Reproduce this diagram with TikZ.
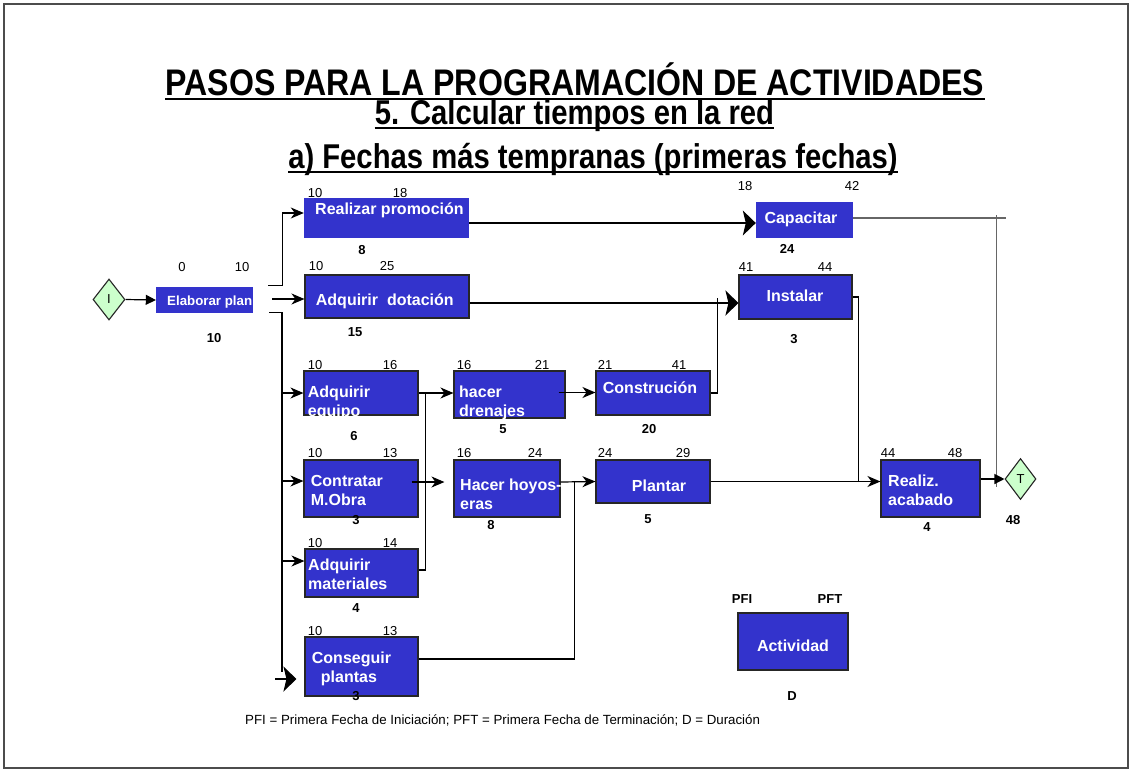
\documentclass[tikz,border=0pt]{standalone}
\usepackage{fontspec}
\setmainfont{Liberation Sans}
\usepackage{graphicx}
\usetikzlibrary{shapes.geometric, arrows.meta, positioning, calc}
\definecolor{actblue}{HTML}{3333CC}
\definecolor{hitogreen}{HTML}{CCFFCC}

\begin{document}
\begin{tikzpicture}[
    x=1pt, y=-1pt,
    act/.style={rectangle, fill=actblue, inner sep=0pt},
    actb/.style={act, draw=black!85, line width=1.1pt},
    txt/.style={anchor=base west, inner sep=0pt, text=white, font=\bfseries\fontsize{16}{19}\selectfont, align=left},
    num/.style={inner sep=0pt, font=\fontsize{13}{13}\selectfont},
    dur/.style={inner sep=0pt, font=\bfseries\fontsize{13}{13}\selectfont},
    hito/.style={diamond, draw=black!85, fill=hitogreen, line width=1.1pt, inner sep=0pt, minimum width=32pt, minimum height=41pt, font=\fontsize{13}{13}\selectfont},
    tit/.style={inner sep=0pt, anchor=base},
    uline/.style={line width=2.5pt},
    conn/.style={line width=1.2pt},
    arrow/.style={conn, -{Stealth[length=13pt, width=11pt, inset=4pt]}},
    bigarrow/.style={conn, -{Stealth[length=13pt, width=25pt, inset=3pt]}},
    tri/.style={conn, -{Triangle[length=10pt, width=10pt]}}
]
\useasboundingbox (0,0) rectangle (1132,772);
\draw[black!70, line width=1.5pt] (4,4) rectangle (1128,768);

% titulo
\node[tit, font=\bfseries\fontsize{37}{37}\selectfont] (t1) at (575,95) {\scalebox{0.867}[1]{PASOS PARA LA PROGRAMACIÓN DE ACTIVIDADES}};
\node[tit, font=\bfseries\fontsize{34.4}{34}\selectfont] (t2) at (574.5,124) {\scalebox{0.85}[1]{5. Calcular tiempos en la red}};
\node[tit, font=\bfseries\fontsize{34.4}{34}\selectfont] (t3) at (593,168) {\scalebox{0.85}[1]{a) Fechas más tempranas (primeras fechas)}};
\draw[uline] ([yshift=-4pt]t1.base west) -- ([yshift=-4pt]t1.base east);
\draw[uline] ([yshift=-4pt]t2.base west) -- ([yshift=-4pt]t2.base east);
\draw[uline] ([yshift=-4pt]t3.base west) -- ([yshift=-4pt]t3.base east);

% hitos
\node[hito] (I) at (109,299.5) {I};
\node[hito, minimum width=31pt] (T) at (1020.5,479) {T};

% actividades
\node[act, minimum width=97pt, minimum height=26pt] (ep) at (204.5,300) {};
\node[act, minimum width=165pt, minimum height=40pt] (rp) at (386.5,218) {};
\node[actb, minimum width=164pt, minimum height=43pt] (ad) at (387,296.5) {};
\node[act, minimum width=97pt, minimum height=36pt] (cp) at (804.5,220) {};
\node[actb, minimum width=113pt, minimum height=44pt] (in) at (795.5,297) {};
\node[actb, minimum width=114pt, minimum height=44pt] (ae) at (361,393) {};
\node[actb, minimum width=111pt, minimum height=47pt] (hd) at (509.5,394.5) {};
\node[actb, minimum width=114pt, minimum height=44pt] (co) at (653,393) {};
\node[actb, minimum width=114pt, minimum height=57pt] (cm) at (361,488.5) {};
\node[actb, minimum width=106pt, minimum height=57pt] (hh) at (507,488.5) {};
\node[actb, minimum width=114pt, minimum height=43pt] (pl) at (653,481.5) {};
\node[actb, minimum width=113pt, minimum height=48pt] (am) at (361.5,573) {};
\node[actb, minimum width=113pt, minimum height=59pt] (cs) at (361.5,666.5) {};
\node[actb, minimum width=99pt, minimum height=57pt] (ra) at (930.5,488.5) {};

% textos (dos lineas: base en la segunda linea)
\node[txt, font=\bfseries\fontsize{13.3}{16}\selectfont] (ep-t) at (167,305) {Elaborar plan};
\node[txt] (rp-t) at (315,214) {Realizar promoción};
\node[txt] (ad-t) at (315.7,305) {Adquirir\ \ dotación};
\node[txt, anchor=base] (cp-t) at (801,223) {Capacitar};
\node[txt, anchor=base] (in-t) at (795,301) {Instalar};
\node[txt] (ae-t) at (307.7,416.5) {Adquirir\\equipo};
\node[txt] (hd-t) at (459,416.7) {hacer\\drenajes};
\node[txt] (co-t) at (602.7,393.3) {Construción};
\node[txt] (cm-t) at (310.7,505.7) {Contratar\\M.Obra};
\node[txt] (hh-t) at (460,509) {Hacer hoyos-\\eras};
\node[txt, anchor=base] (pl-t) at (659,491) {Plantar};
\node[txt] (am-t) at (308,589.7) {Adquirir\\materiales};
\node[txt] (cs-t) at (311.7,682.3) {Conseguir\\\hspace*{9pt}plantas};
\node[txt] (ra-t) at (888,505.7) {Realiz.\\acabado};

% fechas (PFI, PFT) y duraciones
\node[num] (ep-i) at (182,267) {0};   \node[num] (ep-f) at (242,267) {10};  \node[dur] (ep-d) at (214,338) {10};
\node[num] (rp-i) at (315,193) {10};  \node[num] (rp-f) at (400,193) {18};  \node[dur] (rp-d) at (362,250) {8};
\node[num] (ad-i) at (316,266) {10};  \node[num] (ad-f) at (387,266) {25};  \node[dur] (ad-d) at (355,332) {15};
\node[num] (cp-i) at (745,186) {18};  \node[num] (cp-f) at (852,186) {42};  \node[dur] (cp-d) at (787,249) {24};
\node[num] (in-i) at (746,267) {41};  \node[num] (in-f) at (825,267) {44};  \node[dur] (in-d) at (794,339) {3};
\node[num] (ae-i) at (315,365) {10};  \node[num] (ae-f) at (390,365) {16};  \node[dur] (ae-d) at (354,436) {6};
\node[num] (hd-i) at (464,365) {16};  \node[num] (hd-f) at (542,365) {21};  \node[dur] (hd-d) at (503,429) {5};
\node[num] (co-i) at (605,365) {21};  \node[num] (co-f) at (679,365) {41};  \node[dur] (co-d) at (649,429) {20};
\node[num] (cm-i) at (315,453) {10};  \node[num] (cm-f) at (390,453) {13};  \node[dur] (cm-d) at (356,520) {3};
\node[num] (hh-i) at (464,453) {16};  \node[num] (hh-f) at (535,453) {24};  \node[dur] (hh-d) at (491,525) {8};
\node[num] (pl-i) at (605,453) {24};  \node[num] (pl-f) at (683,453) {29};  \node[dur] (pl-d) at (648,519) {5};
\node[num] (am-i) at (315,543) {10};  \node[num] (am-f) at (390,543) {14};  \node[dur] (am-d) at (356,608) {4};
\node[num] (cs-i) at (315,631) {10};  \node[num] (cs-f) at (390,631) {13};  \node[dur] (cs-d) at (356,696) {3};
\node[num] (ra-i) at (888,453) {44};  \node[num] (ra-f) at (955,453) {48};  \node[dur] (ra-d) at (927,527) {4};
\node[dur] (T-d) at (1013,520) {48};

% conexiones
\draw[tri] (I.east) -- (ep.west);
\coordinate (s1) at ($(ep.north east)+(15,-1)$);
\coordinate (s2) at ($(ep.east)+(19,-1)$);
\coordinate (s3) at ($(ep.south east)+(16,-1)$);
\coordinate (bus) at (282,672);
\draw[arrow] (s1) -| ($(rp.west)+(-21,-5)$) -- ($(rp.west)+(0,-5)$);
\draw[arrow] (s2) -- (s2 -| ad.west);
\draw[conn] (s3) -| (bus);
\draw[arrow] (bus |- ae.west) -- (ae.west);
\draw[arrow] ($(cm.west)+(-22,-7.5)$) -- ($(cm.west)+(0,-7.5)$);
\draw[arrow] ($(am.west)+(-23,-12)$) -- ($(am.west)+(0,-12)$);
\draw[bigarrow, shorten >=8pt] ($(cs.west)+(-29,12.5)$) -- ($(cs.west)+(0,12.5)$);

\draw[arrow] (ae.east) -- (ae.east -| hd.west);
\draw[conn] ($(am.east)+(0,-3)$) -| ($(ae.east)+(7,0)$);
\draw[arrow, shorten >=9pt] ($(cm.east)+(-7,-6.5)$) -- ($(hh.west)+(0,-6.5)$);
\draw[arrow] ($(hd.east)+(-7,-2)$) -- ($(co.west)+(0,-0.5)$);
\draw[conn] (co.east) -| ($(in.west)+(-21,1)$);
\draw[bigarrow] ($(ad.east)+(0,6.5)$) -- ($(in.west)+(0,6)$);
\draw[bigarrow] ($(rp.east)+(0,5)$) -- ($(cp.west)+(0,3)$);
\draw[arrow] ($(hh.east)+(0,-6.5)$) -- (pl.west);
\draw[conn] ($(cs.east)+(0,-7.5)$) -| ($(hh.east)+(14,-6.5)$);
\draw[conn] (in.east) -| ($(ra.west)+(-22,-7)$);
\draw[arrow] (pl.east) -- (pl.east -| ra.west);
\draw[conn, black!60] ($(cp.east)+(0,-2)$) -- ++(153,0);
\draw[conn, black!60] ($(T.west)+(-8,-264)$) -- ($(T.west)+(-8,8)$);
\draw[tri] (T.west -| ra.east) -- (T.west);

% leyenda
\node[actb, minimum width=110pt, minimum height=57pt] (ac) at (793,641.5) {};
\node[txt, anchor=base] (ac-t) at (793,651.7) {Actividad};
\node[dur] (pfi) at (742,599) {PFI};
\node[dur] (pft) at (830,599) {PFT};
\node[dur] (dd) at (792,696) {D};
\node[num, anchor=west, font=\fontsize{13.3}{14}\selectfont] (nota) at (245,720) {PFI = Primera Fecha de Iniciación; PFT = Primera Fecha de Terminación; D = Duración};
\end{tikzpicture}
\end{document}
